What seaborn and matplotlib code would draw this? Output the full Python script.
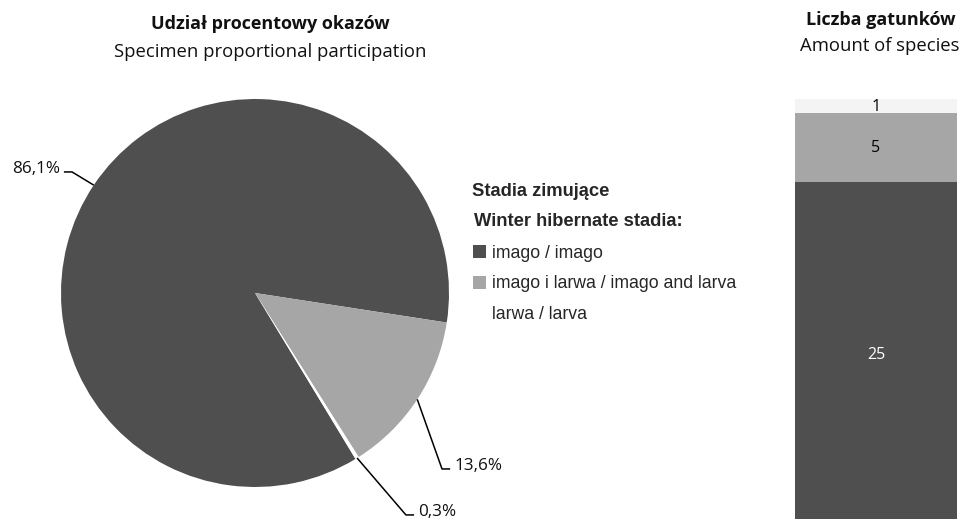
import matplotlib.pyplot as plt
import numpy as np
import seaborn as sns

# data
stages = ["imago / imago", "imago i larwa / imago and larva", "larwa / larva"]
specimen_share = [86.1, 13.6, 0.3]
share_labels = ["86,1%", "13,6%", "0,3%"]
species_count = [25, 5, 1]
pie_colors = ["#4f4f4f", "#a6a6a6", "#ffffff"]
bar_colors = ["#4f4f4f", "#a6a6a6", "#f4f4f4"]

sns.set_theme(style="white")
plt.rcParams["font.family"] = ["Open Sans", "DejaVu Sans"]

W, H = 967, 519
fig = plt.figure(figsize=(W / 100, H / 100), dpi=100)


def px_axes(x0, y0, x1, y1):
    # axes from pixel box (top-left origin)
    return fig.add_axes([x0 / W, 1 - y1 / H, (x1 - x0) / W, (y1 - y0) / H])


# ---- pie ----
r_px = 194.0
cx, cy = 255, 293
ax_pie = px_axes(0, 80, 480, 519)
wedges, _ = ax_pie.pie(
    specimen_share,
    colors=pie_colors,
    startangle=-58.8,
    counterclock=False,
    radius=1,
    wedgeprops=dict(linewidth=0),
)
ax_pie.set_xlim(-cx / r_px, (480 - cx) / r_px)
ax_pie.set_ylim(-(519 - cy) / r_px, (cy - 80) / r_px)
ax_pie.set_aspect("equal", adjustable="datalim")
ax_pie.axis("off")

# leader lines: elbow point, text side
elbows = [(-0.943, 0.624, -1), (0.964, -0.907, 1), (0.778, -1.144, 1)]
for w, lab, (ex, ey, side) in zip(wedges, share_labels, elbows):
    mid = np.radians((w.theta1 + w.theta2) / 2)
    sx, sy = np.cos(mid), np.sin(mid)
    hx = ex + side * 0.042
    ax_pie.plot([sx, ex, hx], [sy, ey, ey], color="black", lw=1.1,
                solid_capstyle="butt", clip_on=False)
    ax_pie.text(hx + side * 0.022, ey - 0.005, lab, fontsize=12.3,
                ha="left" if side > 0 else "right", va="baseline",
                color="#111111", clip_on=False)

fig.text(270 / W, 1 - 24 / H, "Udział procentowy okazów", ha="center",
         va="center", fontsize=13, fontweight="bold", color="#111111")
fig.text(270 / W, 1 - 52 / H, "Specimen proportional participation",
         ha="center", va="center", fontsize=13.3, color="#111111")

# ---- legend ----
fig.text(472 / W, 1 - 191 / H, "Stadia zimujące", ha="left", va="center",
         fontsize=13.2, fontweight="bold", family="Liberation Sans")
fig.text(474 / W, 1 - 221 / H, "Winter hibernate stadia:", ha="left",
         va="center", fontsize=13.2, fontweight="bold", family="Liberation Sans")
fig.legend(
    wedges, stages, loc="upper left",
    bbox_to_anchor=(473 / W, 1 - 245 / H),
    frameon=False, borderpad=0, borderaxespad=0,
    handlelength=0.75, handleheight=0.75, handletextpad=0.3,
    labelspacing=0.76,
    prop=dict(family="Liberation Sans", size=12.7),
)

# ---- stacked bar ----
px_unit = 13.8
bar_bottom_px = 527
ax_bar = px_axes(795, 80, 957, 519)
tops = np.cumsum(species_count)
for top, col in zip(tops[::-1], bar_colors[::-1]):
    sns.barplot(x=["all"], y=[top], color=col, width=1, ax=ax_bar,
                saturation=1, edgecolor="none", linewidth=0)
ax_bar.set_xlim(-0.5, 0.5)
ax_bar.set_ylim((bar_bottom_px - 519) / px_unit,
                (bar_bottom_px - 80) / px_unit)
bottoms = tops - np.array(species_count)
txt_cols = ["white", "black", "black"]
for b, v, tc in zip(bottoms, species_count, txt_cols):
    ax_bar.text(0, b + v / 2 - 0.05, str(v), ha="center", va="center",
                fontsize=11.5, color=tc)
ax_bar.axis("off")

fig.text(881 / W, 1 - 20 / H, "Liczba gatunków", ha="center", va="center",
         fontsize=13, fontweight="bold", color="#111111")
fig.text(880 / W, 1 - 46 / H, "Amount of species", ha="center", va="center",
         fontsize=13.3, color="#111111")

fig.savefig("out.png", dpi=100)
